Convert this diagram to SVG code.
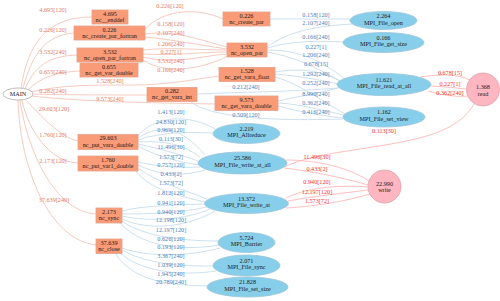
<svg xmlns="http://www.w3.org/2000/svg" width="500" height="301" viewBox="0 0 500 301">
<style>
text{font-family:"Liberation Serif","Times New Roman",serif;font-size:6.2px;text-anchor:middle}
.nt{fill:#1a1a1a}
.box{fill:#fa9b77;stroke:#e3a08a;stroke-width:0.8}
.ell{fill:#87ceeb;stroke:#9cc4d8;stroke-width:0.8}
.cir{fill:#ffb6c1;stroke:#dba1aa;stroke-width:0.8}
.main{fill:#ffffff;stroke:#b0b0b0;stroke-width:0.8}
.es{stroke:#f3bcad;fill:none;stroke-width:0.8}
.eb{stroke:#bfd8eb;fill:none;stroke-width:0.8}
.er{stroke:#ffadad;fill:none;stroke-width:0.8}
.ls{fill:#e27a66}
.lb{fill:#4a80b8}
.lr{fill:#ff2f2f}
</style>
<rect width="500" height="301" fill="#ffffff"/>
<g id="connectors">
  <path class="es" d="M21 88 C28 45,45 17,92 17"/>
  <path class="es" d="M23 88 C32 55,45 35,74 33"/>
  <path class="es" d="M25 89 C35 65,50 56,77 55"/>
  <path class="es" d="M28 90 C40 78,55 72,80 71"/>
  <path class="es" d="M31 92 C60 85,90 85,130 85 C170 85,195 79,219 76"/>
  <path class="es" d="M33 94 C60 95,110 95,147 95"/>
  <path class="es" d="M32 96 C70 101,150 103,215 104"/>
  <path class="es" d="M26 100 C40 115,60 137,78 141"/>
  <path class="es" d="M22 100 C28 130,50 162,78 163"/>
  <path class="es" d="M20 100 C27 150,55 212,96 214"/>
  <path class="es" d="M18 100 C20 170,50 240,96 245"/>
  <path class="es" d="M145 29 C165 8,200 8,223 19"/>
  <path class="es" d="M145 34 C175 30,200 40,227 47"/>
  <path class="es" d="M145 37 C175 40,200 45,227 49"/>
  <path class="es" d="M143 50 C170 47,200 50,227 50"/>
  <path class="es" d="M143 54 C175 56,200 52,227 52"/>
  <path class="es" d="M143 57 C175 65,200 56,227 54"/>
  <path class="es" d="M143 60 C165 75,200 70,228 56"/>
  <path class="eb" d="M270 19 C300 19,330 19,350 19"/>
  <path class="eb" d="M267 47 C290 30,320 26,352 24"/>
  <path class="eb" d="M267 48 C295 40,320 41,343 42"/>
  <path class="eb" d="M267 50 C300 50,320 60,345 79"/>
  <path class="eb" d="M267 52 C300 58,320 70,342 82"/>
  <path class="eb" d="M275 72 C300 68,320 70,340 81"/>
  <path class="eb" d="M275 74 C300 76,320 80,338 84"/>
  <path class="eb" d="M275 77 C300 84,320 100,345 114"/>
  <path class="eb" d="M278 101 C300 96,320 93,338 88"/>
  <path class="eb" d="M278 103 C300 104,320 110,344 115"/>
  <path class="eb" d="M278 106 C300 112,325 116,343 118"/>
  <path class="eb" d="M197 94 C240 92,290 92,338 88"/>
  <path class="eb" d="M190 101 C210 119,280 121,343 119"/>
  <path class="eb" d="M138 136 C155 115,190 114,215 129"/>
  <path class="eb" d="M138 138 C160 124,180 126,205 155"/>
  <path class="eb" d="M138 140 C160 132,190 132,213 133"/>
  <path class="eb" d="M138 142 C160 141,180 142,200 157"/>
  <path class="eb" d="M138 144 C160 149,180 154,198 161"/>
  <path class="eb" d="M138 146 C160 158,180 162,199 165"/>
  <path class="eb" d="M138 162 C160 167,180 168,200 167"/>
  <path class="eb" d="M138 165 C160 176,185 176,205 170"/>
  <path class="eb" d="M138 168 C160 184,185 190,207 199"/>
  <path class="eb" d="M136 171 C150 190,180 196,205 202"/>
  <path class="eb" d="M122 211 C145 205,180 205,205 204"/>
  <path class="eb" d="M122 214 C150 214,180 213,207 207"/>
  <path class="eb" d="M122 216 C150 222,185 220,210 209"/>
  <path class="eb" d="M122 219 C150 232,190 226,215 211"/>
  <path class="eb" d="M122 221 C145 238,190 241,218 241"/>
  <path class="eb" d="M120 223 C145 250,190 250,219 245"/>
  <path class="eb" d="M122 248 C150 258,190 256,220 248"/>
  <path class="eb" d="M122 250 C150 266,190 266,213 266"/>
  <path class="eb" d="M120 253 C145 275,190 275,216 271"/>
  <path class="eb" d="M115 253 C135 285,180 285,207 286"/>
  <path class="er" d="M420 77 C440 74,458 74,470 80"/>
  <path class="er" d="M431 86 C445 87,458 88,466 89"/>
  <path class="er" d="M428 91 C445 96,458 97,468 96"/>
  <path class="er" d="M284 167 C320 150,380 150,430 135 C455 127,468 115,474 104"/>
  <path class="er" d="M286 160 C310 160,345 165,369 181"/>
  <path class="er" d="M284 168 C310 171,345 178,368 185"/>
  <path class="er" d="M286 198 C310 186,345 185,368 187"/>
  <path class="er" d="M288 201 C315 196,345 193,368 190"/>
  <path class="er" d="M286 208 C320 206,350 200,370 194"/>
</g>
<g id="edge-labels">
  <text class="ls" x="53" y="12.2">4.695[120]</text>
  <text class="ls" x="53" y="32.2">0.226[120]</text>
  <text class="ls" x="53" y="54.2">3.532[240]</text>
  <text class="ls" x="53" y="74.2">0.655[240]</text>
  <text class="ls" x="110" y="83.2">1.528[240]</text>
  <text class="ls" x="53" y="93.2">0.282[240]</text>
  <text class="ls" x="110" y="100.7">9.573[240]</text>
  <text class="ls" x="54" y="111.2">29.603[120]</text>
  <text class="ls" x="53" y="136.7">1.760[120]</text>
  <text class="ls" x="53" y="163.2">2.173[120]</text>
  <text class="ls" x="54" y="202.2">37.639[240]</text>
  <text class="ls" x="170" y="8">0.226[120]</text>
  <text class="ls" x="171" y="26.2">0.158[120]</text>
  <text class="ls" x="171" y="35.2">2.107[240]</text>
  <text class="ls" x="171" y="45.7">1.206[240]</text>
  <text class="ls" x="171" y="53.7">0.227[1]</text>
  <text class="ls" x="171" y="62.7">3.532[240]</text>
  <text class="ls" x="171" y="71.7">0.166[240]</text>
  <text class="lb" x="316" y="17.2">0.158[120]</text>
  <text class="lb" x="316" y="25.2">2.107[240]</text>
  <text class="lb" x="316" y="39.2">0.166[240]</text>
  <text class="lb" x="316" y="49.2">0.227[1]</text>
  <text class="lb" x="316" y="57.2">1.206[240]</text>
  <text class="lb" x="316" y="66.2">0.678[15]</text>
  <text class="lb" x="316" y="75.7">1.292[240]</text>
  <text class="lb" x="316" y="84.7">0.252[240]</text>
  <text class="lb" x="316" y="95.7">8.990[240]</text>
  <text class="lb" x="316" y="104.7">0.362[240]</text>
  <text class="lb" x="316" y="113.7">0.416[240]</text>
  <text class="lb" x="246" y="89.2">0.212[240]</text>
  <text class="lb" x="246" y="117.2">0.509[120]</text>
  <text class="lb" x="171" y="113.7">1.413[120]</text>
  <text class="lb" x="171" y="123.7">24.830[120]</text>
  <text class="lb" x="171" y="132.2">0.969[120]</text>
  <text class="lb" x="171" y="141.2">0.113[30]</text>
  <text class="lb" x="171" y="149.2">11.496[30]</text>
  <text class="lb" x="171" y="158.7">1.573[72]</text>
  <text class="lb" x="171" y="167.2">0.757[120]</text>
  <text class="lb" x="171" y="175.7">0.433[2]</text>
  <text class="lb" x="171" y="184.7">1.573[72]</text>
  <text class="lb" x="171" y="194.7">1.812[120]</text>
  <text class="lb" x="171" y="204.7">0.941[120]</text>
  <text class="lb" x="171" y="213.7">0.940[120]</text>
  <text class="lb" x="171" y="221.7">12.198[120]</text>
  <text class="lb" x="171" y="231.7">12.197[120]</text>
  <text class="lb" x="171" y="240.7">0.626[120]</text>
  <text class="lb" x="171" y="248.7">0.193[120]</text>
  <text class="lb" x="171" y="257.7">3.367[240]</text>
  <text class="lb" x="171" y="266.7">1.039[120]</text>
  <text class="lb" x="171" y="275.7">1.945[240]</text>
  <text class="lb" x="171" y="283.7">20.789[240]</text>
  <text class="lr" x="450" y="74.7">0.678[15]</text>
  <text class="lr" x="450" y="86.2">0.227[1]</text>
  <text class="lr" x="450" y="94.7">0.362[240]</text>
  <text class="lr" x="384" y="133.2">0.113[30]</text>
  <text class="lr" x="317" y="159.2">11.496[30]</text>
  <text class="lr" x="317" y="171.2">0.433[2]</text>
  <text class="lr" x="317" y="183.7">0.940[120]</text>
  <text class="lr" x="317" y="193.7">12.197[120]</text>
  <text class="lr" x="317" y="202.7">1.573[72]</text>
</g>
<g id="MAIN"><ellipse class="main" cx="18" cy="94" rx="15" ry="6"/><text class="nt" x="18" y="96.2">MAIN</text></g>
<g id="nc__enddef"><rect class="box" x="92" y="10" width="36" height="14"/><text class="nt" x="110" y="15.5">4.695</text><text class="nt" x="110" y="21.8">nc__enddef</text></g>
<g id="nc_create_par_fortran"><rect class="box" x="74" y="26" width="71" height="14"/><text class="nt" x="109.5" y="31.5">0.226</text><text class="nt" x="109.5" y="37.8">nc_create_par_fortran</text></g>
<g id="nc_open_par_fortran"><rect class="box" x="77" y="48" width="66" height="14"/><text class="nt" x="110" y="53.5">3.532</text><text class="nt" x="110" y="59.8">nc_open_par_fortran</text></g>
<g id="nc_get_var_double"><rect class="box" x="80" y="63" width="58" height="14"/><text class="nt" x="109" y="68.5">0.655</text><text class="nt" x="109" y="74.8">nc_get_var_double</text></g>
<g id="nc_get_vara_int"><rect class="box" x="147" y="87.5" width="50" height="14"/><text class="nt" x="172" y="93">0.282</text><text class="nt" x="172" y="99.3">nc_get_vara_int</text></g>
<g id="nc_create_par"><rect class="box" x="223" y="12" width="47" height="14"/><text class="nt" x="246.5" y="17.5">0.226</text><text class="nt" x="246.5" y="23.8">nc_create_par</text></g>
<g id="nc_open_par"><rect class="box" x="227" y="43" width="40" height="14"/><text class="nt" x="247" y="48.5">3.532</text><text class="nt" x="247" y="54.8">nc_open_par</text></g>
<g id="nc_get_vara_float"><rect class="box" x="219" y="67.5" width="56" height="14"/><text class="nt" x="247" y="73">1.528</text><text class="nt" x="247" y="79.3">nc_get_vara_float</text></g>
<g id="nc_get_vara_double"><rect class="box" x="215" y="96" width="63" height="14.5"/><text class="nt" x="246.5" y="101.5">9.573</text><text class="nt" x="246.5" y="108">nc_get_vara_double</text></g>
<g id="nc_put_vara_double"><rect class="box" x="78" y="134.5" width="60" height="15"/><text class="nt" x="108" y="140.3">29.603</text><text class="nt" x="108" y="146.8">nc_put_vara_double</text></g>
<g id="nc_put_var1_double"><rect class="box" x="78" y="156" width="60" height="15"/><text class="nt" x="108" y="161.8">1.760</text><text class="nt" x="108" y="168.3">nc_put_var1_double</text></g>
<g id="nc_sync"><rect class="box" x="96" y="208" width="26" height="15"/><text class="nt" x="109" y="213.8">2.173</text><text class="nt" x="109" y="220.3">nc_sync</text></g>
<g id="nc_close"><rect class="box" x="96" y="239" width="26" height="14.5"/><text class="nt" x="109" y="244.5">37.639</text><text class="nt" x="109" y="251">nc_close</text></g>
<g id="MPI_File_open"><ellipse class="ell" cx="383.5" cy="20.5" rx="33.5" ry="9"/><text class="nt" x="383.5" y="17.8">2.264</text><text class="nt" x="383.5" y="24.5">MPI_File_open</text></g>
<g id="MPI_File_get_size"><ellipse class="ell" cx="383.5" cy="42.5" rx="40.5" ry="10"/><text class="nt" x="383.5" y="39.8">0.166</text><text class="nt" x="383.5" y="46.3">MPI_File_get_size</text></g>
<g id="MPI_File_read_at_all"><ellipse class="ell" cx="384" cy="84.5" rx="47" ry="11"/><text class="nt" x="384" y="81.8">11.621</text><text class="nt" x="384" y="88.3">MPI_File_read_at_all</text></g>
<g id="MPI_File_set_view"><ellipse class="ell" cx="384" cy="117" rx="41" ry="10"/><text class="nt" x="384" y="114.3">1.162</text><text class="nt" x="384" y="120.8">MPI_File_set_view</text></g>
<g id="MPI_Allreduce"><ellipse class="ell" cx="246.5" cy="133.5" rx="33.5" ry="10"/><text class="nt" x="246.5" y="130.8">2.219</text><text class="nt" x="246.5" y="137.3">MPI_Allreduce</text></g>
<g id="MPI_File_write_at_all"><ellipse class="ell" cx="242.5" cy="163" rx="44.5" ry="11"/><text class="nt" x="242.5" y="160.3">25.586</text><text class="nt" x="242.5" y="166.8">MPI_File_write_at_all</text></g>
<g id="MPI_File_write_at"><ellipse class="ell" cx="246.5" cy="203.5" rx="42" ry="10"/><text class="nt" x="246.5" y="200.8">13.372</text><text class="nt" x="246.5" y="207.3">MPI_File_write_at</text></g>
<g id="MPI_Barrier"><ellipse class="ell" cx="246.5" cy="242.5" rx="28.5" ry="10"/><text class="nt" x="246.5" y="239.8">5.724</text><text class="nt" x="246.5" y="246.3">MPI_Barrier</text></g>
<g id="MPI_File_sync"><ellipse class="ell" cx="246.5" cy="265.5" rx="33.5" ry="10.5"/><text class="nt" x="246.5" y="262.8">2.071</text><text class="nt" x="246.5" y="269.3">MPI_File_sync</text></g>
<g id="MPI_File_set_size"><ellipse class="ell" cx="247.5" cy="287" rx="40.5" ry="10"/><text class="nt" x="247.5" y="284.3">21.828</text><text class="nt" x="247.5" y="290.8">MPI_File_set_size</text></g>
<g id="read"><circle class="cir" cx="483" cy="89.5" r="16.5"/><text class="nt" x="483" y="89">1.368</text><text class="nt" x="483" y="95.5">read</text></g>
<g id="write"><circle class="cir" cx="384.5" cy="186.5" r="16.5"/><text class="nt" x="384.5" y="185.8">22.990</text><text class="nt" x="384.5" y="192.3">write</text></g>
</svg>
